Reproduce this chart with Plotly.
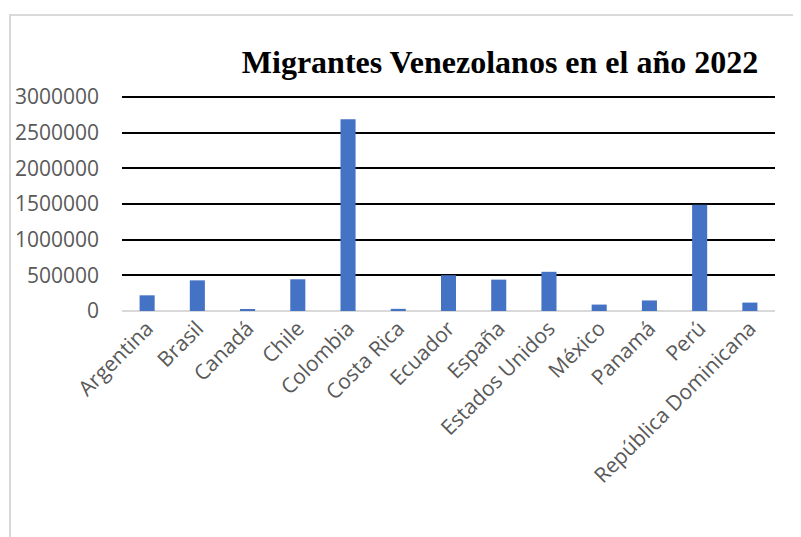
import plotly.graph_objects as go

paises = ["Argentina", "Brasil", "Canadá", "Chile", "Colombia", "Costa Rica",
          "Ecuador", "España", "Estados Unidos", "México", "Panamá", "Perú",
          "República Dominicana"]
migrantes = [220000, 430000, 20000, 445000, 2690000, 30000,
             502000, 440000, 550000, 90000, 148000, 1490000, 118000]
y_ticks = [0, 500000, 1000000, 1500000, 2000000, 2500000, 3000000]

# la pagina html tiene 8px de margen en el body
OFF = 8
W, H = 801 - OFF, 537 - OFF
ML, MT = 122 - OFF, 95 - OFF
MR, MB = W - (775 - OFF), H - (311 - OFF)
pw, ph = W - ML - MR, H - MT - MB

fig = go.Figure(go.Bar(
    x=paises, y=migrantes, marker_color="#4472C4",
    marker_line_width=0, showlegend=False,
))

# marco gris del area del grafico (sale por la derecha y por abajo)
fig.add_shape(type="rect", xref="paper", yref="paper",
              x0=(10 - OFF - ML) / pw, x1=(W + 20 - ML) / pw,
              y0=-(H + 20 - MT - ph) / ph, y1=1 + (MT - (15 - OFF)) / ph,
              line=dict(color="#D9D9D9", width=2), layer="below")

fig.update_layout(
    width=W, height=H,
    margin=dict(l=ML, r=MR, t=MT, b=MB, autoexpand=False),
    paper_bgcolor="white", plot_bgcolor="white",
    bargap=0.7,
    title=dict(text="<b>Migrantes Venezolanos en el año 2022</b>",
               font=dict(family="Liberation Serif", size=32, color="black"),
               x=(500 - OFF) / W, xanchor="center", xref="container",
               y=1 - (62 - OFF) / H, yanchor="middle", yref="container"),
    font=dict(family="Open Sans", size=21, color="#595959"),
)
fig.update_xaxes(tickangle=-45, showgrid=False, showline=False, ticks="",
                 automargin=False, tickfont=dict(size=21, color="#595959"))
fig.update_yaxes(range=[0, 3030000], tickvals=y_ticks,
                 ticktext=[str(v) for v in y_ticks],
                 showgrid=True, gridcolor="black", gridwidth=2,
                 zeroline=True, zerolinecolor="#D9D9D9", zerolinewidth=2,
                 showline=False, ticks="", ticklabelstandoff=22,
                 automargin=False, tickfont=dict(size=21, color="#595959"))

fig.write_html("out.html")
